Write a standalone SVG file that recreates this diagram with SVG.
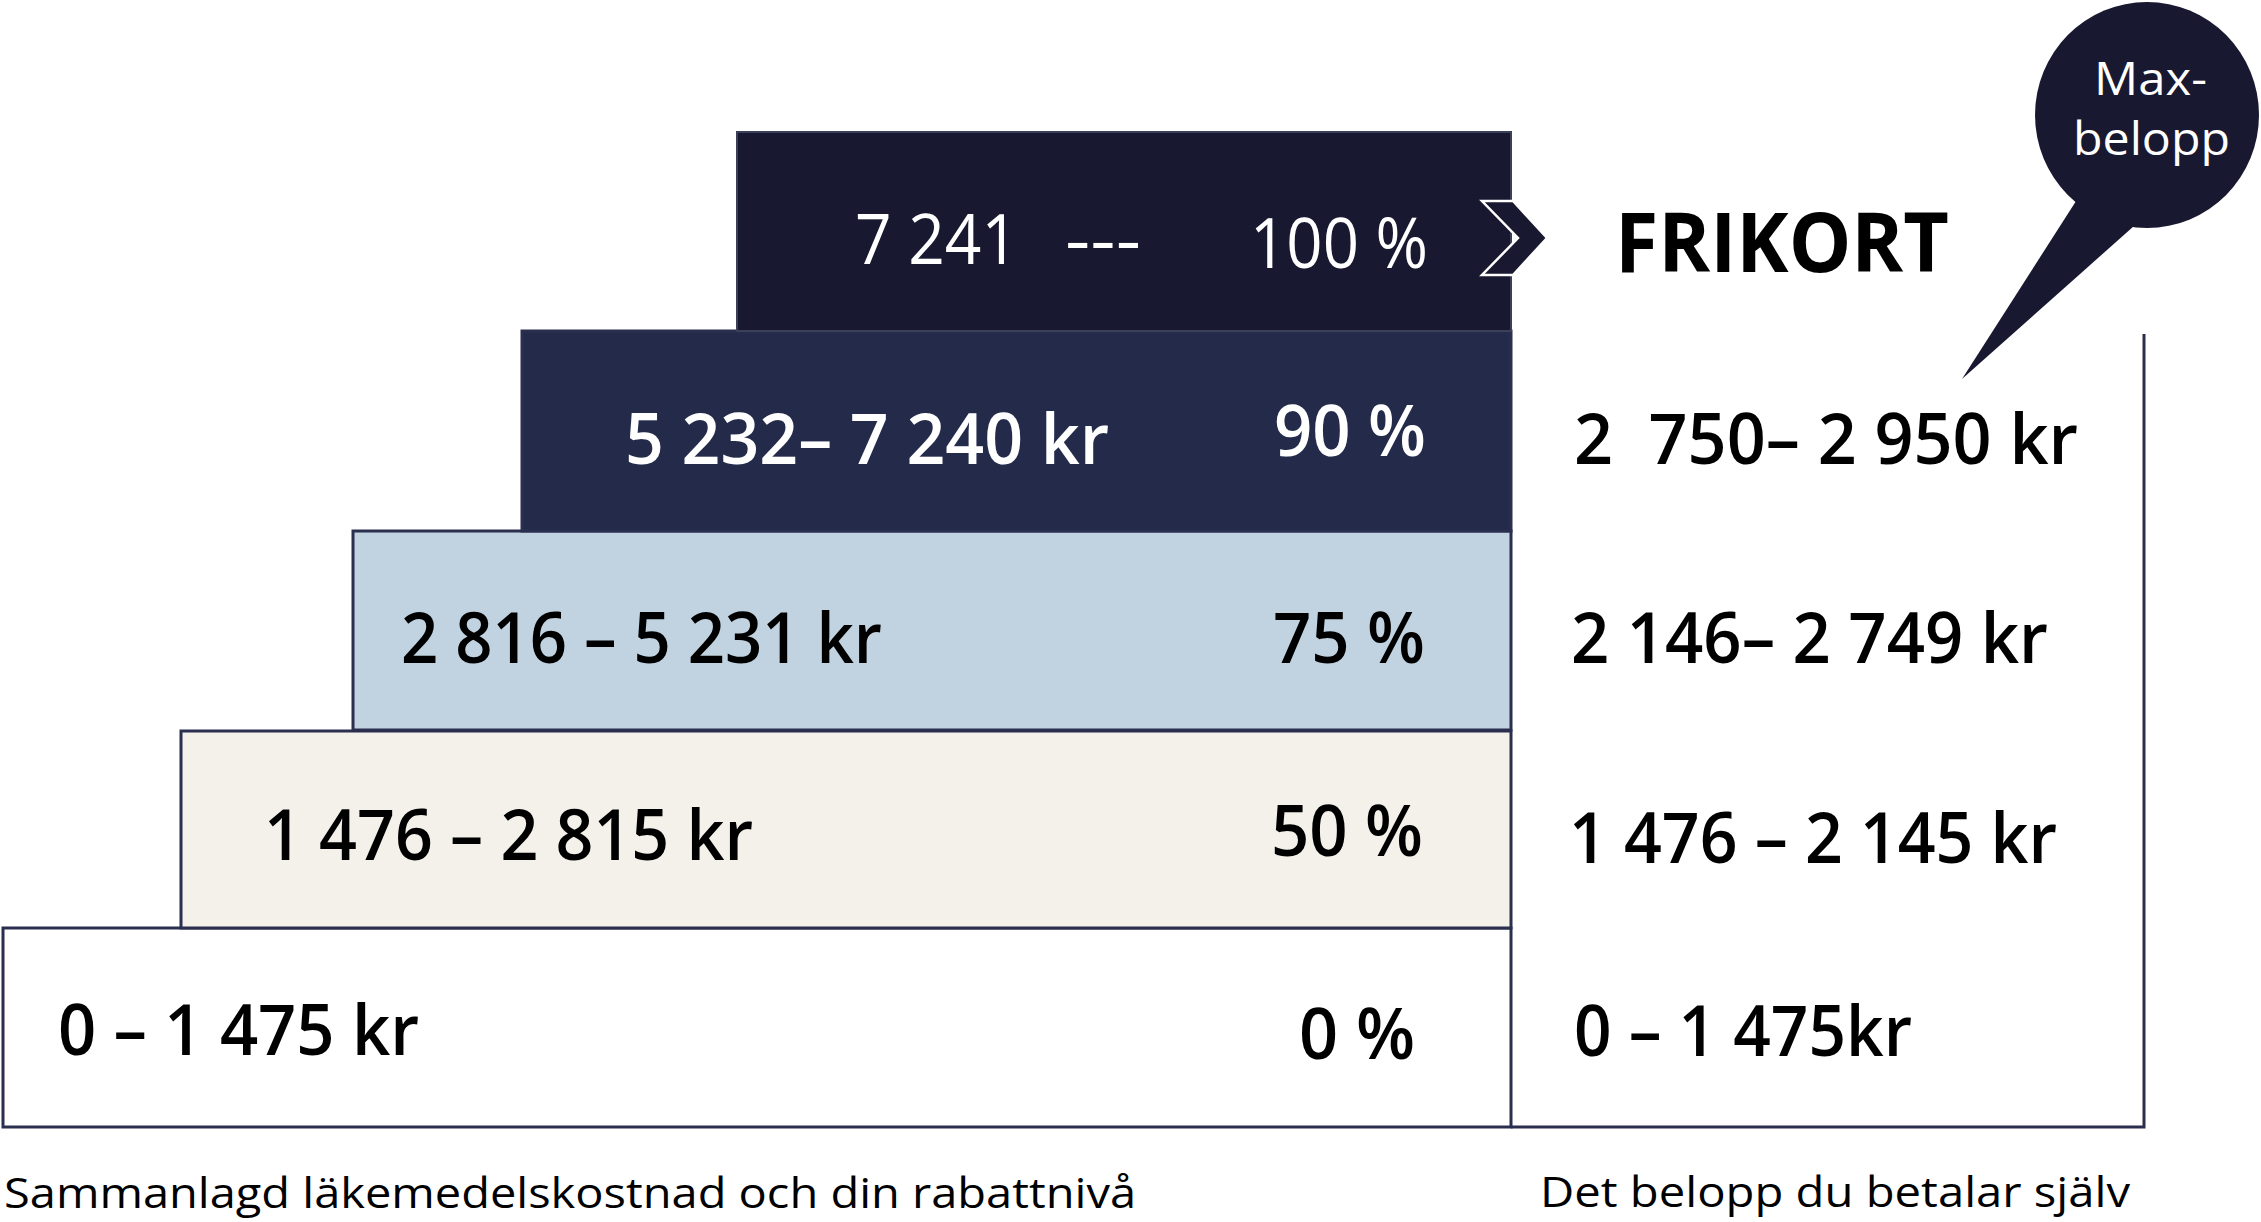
<svg xmlns="http://www.w3.org/2000/svg" width="2261" height="1222" viewBox="0 0 2261 1222">
<style>
.box{stroke:#2a2f4f;stroke-width:3}
.lbl{font-family:"Open Sans","Noto Sans","Liberation Sans",sans-serif;font-size:70px;font-weight:600;fill:#000}
.w{fill:#fff}
.reg{font-weight:500}
.cap{font-family:"Open Sans","Noto Sans","Liberation Sans",sans-serif;font-size:42px;font-weight:400;fill:#000}
.line{stroke:#2a2f4f;stroke-width:3;fill:none}
</style>
<rect width="2261" height="1222" fill="#fff"/>
<g id="tier-0">
<rect class="box" x="3" y="928" width="1508" height="199" fill="#ffffff"/>
<text class="lbl" x="58" y="1055" textLength="361" lengthAdjust="spacingAndGlyphs">0 – 1 475 kr</text>
<text class="lbl" x="1299" y="1059" textLength="116" lengthAdjust="spacingAndGlyphs">0 %</text>
</g>
<g id="tier-50">
<rect class="box" x="181" y="731" width="1330" height="197" fill="#f4f1ea"/>
<text class="lbl" x="264" y="860" textLength="489" lengthAdjust="spacingAndGlyphs">1 476 – 2 815 kr</text>
<text class="lbl" x="1271" y="856" textLength="152" lengthAdjust="spacingAndGlyphs">50 %</text>
</g>
<g id="tier-75">
<rect class="box" x="353" y="531" width="1158" height="199" fill="#c1d3e1"/>
<text class="lbl" x="401" y="663" textLength="481" lengthAdjust="spacingAndGlyphs">2 816 – 5 231 kr</text>
<text class="lbl" x="1273" y="663" textLength="152" lengthAdjust="spacingAndGlyphs">75 %</text>
</g>
<g id="tier-90">
<rect class="box" x="522" y="331" width="989" height="200" fill="#232a4a"/>
<text class="lbl w" x="625" y="464" textLength="484" lengthAdjust="spacingAndGlyphs">5 232– 7 240 kr</text>
<text class="lbl w" x="1274" y="456" textLength="152" lengthAdjust="spacingAndGlyphs">90 %</text>
</g>
<g id="tier-100">
<rect x="737" y="132" width="774" height="199" fill="#181830" stroke="#3a3f5a" stroke-width="2"/>
<text class="lbl w reg" x="855" y="264" textLength="163" lengthAdjust="spacingAndGlyphs">7 241</text>
<text class="lbl w reg" x="1065" y="264" textLength="76" lengthAdjust="spacingAndGlyphs">---</text>
<text class="lbl w reg" x="1250" y="268" textLength="178" lengthAdjust="spacingAndGlyphs">100 %</text>
</g>
<g id="chevron">
<path d="M1482,201 L1513,201 L1547,238 L1513,275 L1482,275 L1518,238 Z" fill="#181830" stroke="#fff" stroke-width="2.5" stroke-linejoin="miter"/>
</g>
<g id="frikort">
<text x="1615" y="272" font-family="'Open Sans','Noto Sans','Liberation Sans',sans-serif" font-size="82" font-weight="700" fill="#000" textLength="334" lengthAdjust="spacingAndGlyphs">FRIKORT</text>
</g>
<g id="payment-column">
<path class="line" d="M2144,334 L2144,1127 L1511,1127"/>
<text class="lbl" x="1574" y="464" textLength="504" lengthAdjust="spacingAndGlyphs" style="white-space:pre">2  750– 2 950 kr</text>
<text class="lbl" x="1571" y="663" textLength="477" lengthAdjust="spacingAndGlyphs">2 146– 2 749 kr</text>
<text class="lbl" x="1569" y="863" textLength="488" lengthAdjust="spacingAndGlyphs">1 476 – 2 145 kr</text>
<text class="lbl" x="1574" y="1056" textLength="338" lengthAdjust="spacingAndGlyphs">0 – 1 475kr</text>
</g>
<g id="max-bubble">
<ellipse cx="2147" cy="115" rx="112" ry="113" fill="#181830"/>
<path d="M2078,198 L1962,379 L2134,226 Z" fill="#181830"/>
<text x="2094" y="95" font-family="'Open Sans','Noto Sans','Liberation Sans',sans-serif" font-size="46" fill="#fff" textLength="113" lengthAdjust="spacingAndGlyphs">Max-</text>
<text x="2073" y="155" font-family="'Open Sans','Noto Sans','Liberation Sans',sans-serif" font-size="46" fill="#fff" textLength="157" lengthAdjust="spacingAndGlyphs">belopp</text>
</g>
<g id="captions">
<text class="cap" x="4" y="1208" textLength="1132" lengthAdjust="spacingAndGlyphs">Sammanlagd läkemedelskostnad och din rabattnivå</text>
<text class="cap" x="1540" y="1207" textLength="590" lengthAdjust="spacingAndGlyphs">Det belopp du betalar själv</text>
</g>
</svg>
